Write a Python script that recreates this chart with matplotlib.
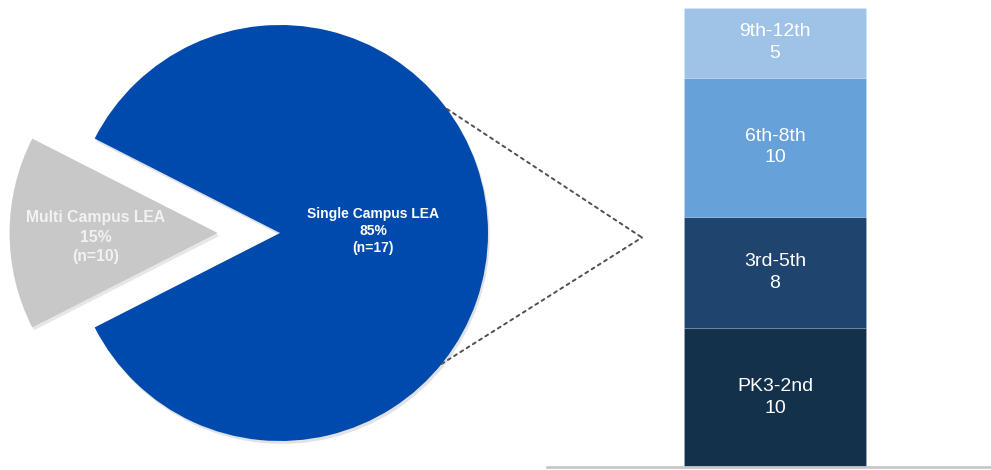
import matplotlib
matplotlib.use("Agg")
import matplotlib.pyplot as plt
from matplotlib.patches import ConnectionPatch
import numpy as np

plt.rcParams['font.family'] = ['Liberation Sans', 'DejaVu Sans']

# Data
pie_labels = ["Single Campus LEA", "Multi Campus LEA"]
pie_pct = [85, 15]
pie_n = [17, 10]
pie_colors = ["#004AAD", "#C8C8C8"]

bar_labels = ["PK3-2nd", "3rd-5th", "6th-8th", "9th-12th"]
bar_values = [10, 8, 10, 5]
bar_colors = ["#14314B", "#1F446E", "#66A1D9", "#9FC3E7"]

W, H = 991, 470
fig = plt.figure(figsize=(W / 100, H / 100), dpi=100)

# ---- pie axes (1 data unit = 208 px, centre at px (280, 233))
R = 208.0
cx, cy = 280.0, 233.0
pw = 540.0
ax1 = fig.add_axes([0, 0, pw / W, 1])

start = -pie_pct[0] / 100 * 360 / 2
wedges, _ = ax1.pie(pie_pct, colors=pie_colors, startangle=start,
                    explode=[0, 0.3], radius=1, center=(0, 0),
                    frame=True, wedgeprops=dict(linewidth=0),
                    shadow=dict(ox=0.006, oy=-0.01, alpha=0.12))
ax1.set_xlim(-cx / R, (pw - cx) / R)
ax1.set_ylim(-(H - cy) / R, cy / R)
ax1.set_aspect('auto')
ax1.axis('off')

ax1.text((373 - cx) / R, 0.01, f"{pie_labels[0]}\n{pie_pct[0]}%\n(n={pie_n[0]})",
         ha='center', va='center', color='white', fontsize=10, fontweight='bold',
         linespacing=1.3)
ax1.text((96 - cx) / R, -0.02, f"{pie_labels[1]}\n{pie_pct[1]}%\n(n={pie_n[1]})",
         ha='center', va='center', color='#F2F2F2', fontsize=11.3, fontweight='bold',
         linespacing=1.35)

# ---- bar axes
bx0, bx1 = 547.0, 991.0
by_top, by_bot = 8.0, 467.0
ax2 = fig.add_axes([bx0 / W, (H - by_bot) / H, (bx1 - bx0) / W, (by_bot - by_top) / H])
total = sum(bar_values)
ax2.set_xlim(0, 1)
ax2.set_ylim(0, total)
xc = (775 - bx0) / (bx1 - bx0)
bw = 182 / (bx1 - bx0)
bottom = 0
for lab, v, c in zip(bar_labels, bar_values, bar_colors):
    ax2.bar(xc, v, width=bw, bottom=bottom, color=c, edgecolor=(1, 1, 1, 0.12),
            linewidth=0.8, zorder=2)
    ax2.text(xc, bottom + v / 2, f"{lab}\n{v}", ha='center', va='center',
             color='white', fontsize=14, linespacing=1.35, zorder=3)
    bottom += v
for s in ['top', 'right', 'left']:
    ax2.spines[s].set_visible(False)
ax2.spines['bottom'].set_color('#C8C8C8')
ax2.spines['bottom'].set_linewidth(2)
ax2.set_xticks([])
ax2.set_yticks([])
ax2.patch.set_alpha(0)

# ---- connecting dotted lines
apex_x = (642 - bx0) / (bx1 - bx0)
for ang in (36.6, -39.0):
    a = np.deg2rad(ang)
    con = ConnectionPatch(xyA=(np.cos(a), np.sin(a)), coordsA=ax1.transData,
                          xyB=(apex_x, total / 2), coordsB=ax2.transData,
                          linestyle=(0, (1.6, 2.2)), color='#505050', linewidth=1.4)
    fig.add_artist(con)

fig.savefig("out.png", dpi=100)
